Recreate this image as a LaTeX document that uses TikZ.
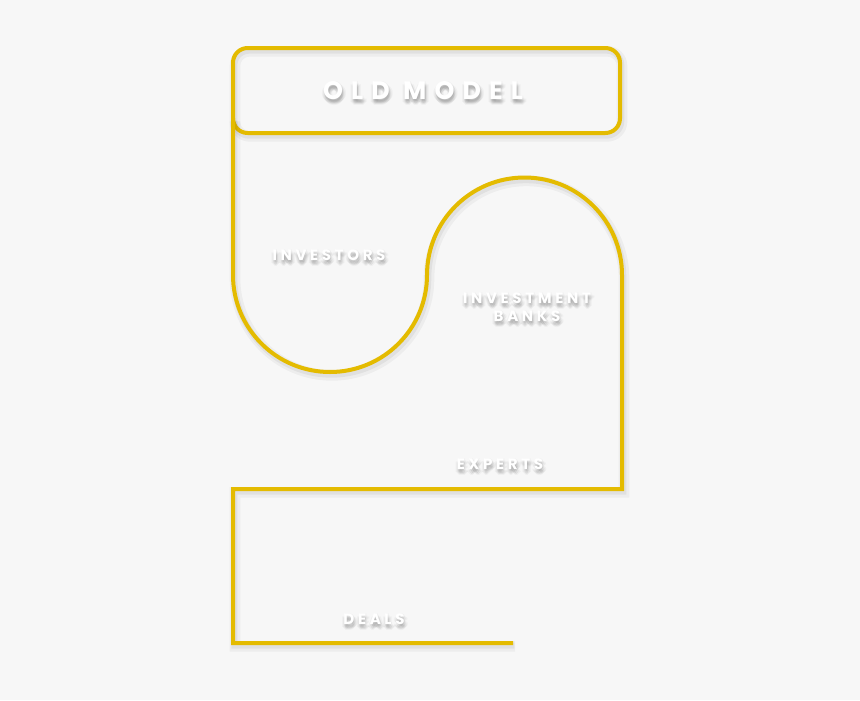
\documentclass[tikz,border=0pt]{standalone}
\usepackage{fontspec}
\setmainfont{Poppins}
\newfontfamily\titlefont[LetterSpace=32]{Poppins}
\newfontfamily\labelfont[LetterSpace=24]{Poppins}
\definecolor{wireyellow}{RGB}{228,187,0}
\definecolor{paper}{RGB}{247,247,247}

\tikzset{every picture/.style={line width=0.75pt}}
\tikzset{
  wire/.style={draw=wireyellow, line width=3pt, line join=miter,
    preaction={draw=black, opacity=0.04, line width=8pt, transform canvas={xshift=1.5pt,yshift=-2.5pt}},
    preaction={draw=black, opacity=0.05, line width=4.5pt, transform canvas={xshift=1pt,yshift=-2pt}}},
  lbl/.style={text=white, inner sep=0pt, align=center},
  bigfont/.style={font=\titlefont\bfseries\fontsize{19}{22}\selectfont},
  smallfont/.style={font=\labelfont\bfseries\fontsize{11.3}{13.5}\selectfont}
}
% white label with a soft grey shadow under it
\newcommand{\glowlabel}[4]{%
  \foreach \dx/\dy in {1/3,0/2,2/2,0/5,2/5,-2/3,4/3,1/0,1/6,-1/4,3/4,1/4}
    \node[lbl, #3, text=black, opacity=0.032] at ([shift={(\dx,\dy)}]#2) {#4};
  \node[lbl, #3] (#1) at (#2) {#4};
}

\begin{document}
\begin{tikzpicture}[x=0.75pt,y=0.75pt,yscale=-1,xscale=1]
\fill[paper] (0,0) rectangle (860,700);
\useasboundingbox (0,0) rectangle (860,700);

%Rounded Rect: old model box
\draw[wire, rounded corners=11pt] (233,48) rectangle (620,133);
\glowlabel{oldmodel}{423,91}{bigfont}{OLD MODEL}

%Curve Lines: the wire
\coordinate (start) at (233,118);
\coordinate (lowleft) at (233,275);
\coordinate (rightdown) at (622,489);
\coordinate (leftturn) at (233,489);
\coordinate (bottomleft) at (233,643);
\coordinate (wireend) at (513,643);
\draw[wire] (start) -- (lowleft)
  arc[start angle=180, end angle=0, radius=97]
  arc[start angle=180, end angle=360, radius=97.5]
  -- (rightdown) -- (leftturn) -- (bottomleft) -- (wireend);

%Labels
\glowlabel{investors}{329,255}{smallfont}{INVESTORS}
\glowlabel{banks}{527,307}{smallfont}{INVESTMENT\\BANKS}
\glowlabel{experts}{500,464}{smallfont}{EXPERTS}
\glowlabel{deals}{374,619}{smallfont}{DEALS}
\end{tikzpicture}
\end{document}
